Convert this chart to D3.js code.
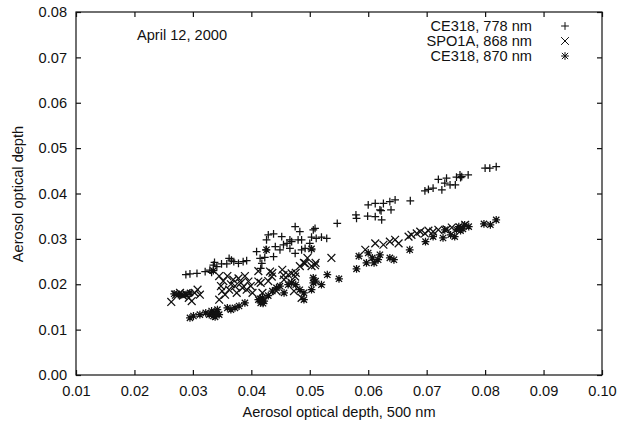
<!DOCTYPE html>
<html><head><meta charset="utf-8">
<script src="https://cdn.jsdelivr.net/npm/d3@7"></script>
<style>body{margin:0;background:#fff}svg{display:block}text{font-family:"Liberation Sans",Arial,Helvetica,sans-serif;fill:#111}</style>
</head><body><svg id="c" width="617" height="423"></svg>
<script>
const xTicks=[0.01,0.02,0.03,0.04,0.05,0.06,0.07,0.08,0.09,0.10];
const yTicks=[0.00,0.01,0.02,0.03,0.04,0.05,0.06,0.07,0.08];
const seriesNames=["CE318, 778 nm","SPO1A, 868 nm","CE318, 870 nm"];
const dateLabel="April 12, 2000";
const xTitle="Aerosol optical depth, 500 nm";
const yTitle="Aerosol optical depth";

const ce318_778=[[0.0288,0.0221],[0.0295,0.0223],[0.0307,0.0224],[0.0321,0.0228],[0.0329,0.0231],[0.0335,0.0242],[0.0341,0.0239],[0.0349,0.0245],[0.0358,0.0245],[0.0366,0.0253],[0.0370,0.0250],[0.0378,0.0246],[0.0386,0.0250],[0.0392,0.0252],[0.0409,0.0272],[0.0415,0.0257],[0.0418,0.0246],[0.0423,0.0259],[0.0426,0.0298],[0.0429,0.0309],[0.0416,0.0235],
[0.0438,0.0311],[0.0441,0.0283],[0.0438,0.0261],[0.0449,0.0276],[0.0452,0.0305],[0.0455,0.0287],[0.0461,0.0290],[0.0466,0.0298],[0.0466,0.0279],[0.0469,0.0294],[0.0475,0.0327],[0.0475,0.0268],[0.0480,0.0298],[0.0483,0.0316],[0.0486,0.0298],[0.0486,0.0276],[0.0492,0.0279],[0.0500,0.0290],[0.0503,0.0304],[0.0503,0.0276],[0.0506,0.0320],[0.0509,0.0323],[0.0511,0.0301],[0.0520,0.0304],[0.0529,0.0301],[0.0547,0.0334],[0.0579,0.0353],[0.0580,0.0345],[0.0599,0.0350],[0.0600,0.0375],[0.0612,0.0349],[0.0612,0.0378],[0.0620,0.0364],[0.0623,0.0342],[0.0626,0.0378],[0.0637,0.0382],[0.0639,0.0364],[0.0646,0.0386],[0.0672,0.0384],[0.0697,0.0406],[0.0703,0.0409],[0.0711,0.0412],[0.0720,0.0431],[0.0726,0.0408],[0.0731,0.0423],[0.0734,0.0434],[0.0740,0.0419],[0.0749,0.0419],[0.0751,0.0436],[0.0757,0.0441],[0.0760,0.0437],[0.0771,0.0441],[0.0800,0.0456],[0.0808,0.0456],[0.0819,0.0459],
[0.0332,0.0226],[0.0337,0.0248],[0.0362,0.0257],[0.0425,0.0276],[0.0622,0.0362],[0.0758,0.0435]];

const spo1a_868=[[0.0263,0.0161],[0.0271,0.0177],[0.0278,0.0181],[0.0283,0.0175],[0.0288,0.0179],[0.0293,0.0170],[0.0298,0.0163],[0.0303,0.0181],[0.0308,0.0188],[0.0312,0.0177],
[0.0345,0.0218],[0.0348,0.0196],[0.0352,0.0207],[0.0355,0.0177],[0.0359,0.0218],[0.0362,0.0188],[0.0369,0.0210],[0.0372,0.0196],[0.0375,0.0181],[0.0382,0.0203],[0.0389,0.0218],[0.0392,0.0188],[0.0399,0.0196],[0.0402,0.0181],[0.0412,0.0229],[0.0416,0.0203],[0.0419,0.0181],[0.0429,0.0207],[0.0436,0.0225],[0.0443,0.0185],[0.0453,0.0232],[0.0456,0.0210],[0.0463,0.0221],[0.0469,0.0203],[0.0476,0.0225],[0.0483,0.0240],[0.0490,0.0247],[0.0496,0.0258],[0.0503,0.0240],[0.0510,0.0247],[0.0537,0.0258],[0.0345,0.0166],[0.0473,0.0185],[0.0486,0.0170],
[0.0378,0.0213],[0.0395,0.0206],[0.0412,0.0206],[0.0432,0.0228],[0.0435,0.0217],[0.0455,0.0220],[0.0469,0.0224],[0.0475,0.0217],[0.0492,0.0246],[0.0509,0.0242],[0.0350,0.0185],[0.0365,0.0200],[0.0385,0.0192],
[0.0595,0.0276],[0.0612,0.0290],[0.0626,0.0287],[0.0637,0.0294],[0.0646,0.0298],[0.0652,0.0290],[0.0669,0.0305],[0.0674,0.0309],[0.0683,0.0312],[0.0689,0.0316],[0.0697,0.0312],[0.0703,0.0318],[0.0711,0.0316],[0.0720,0.0320],[0.0734,0.0321],[0.0743,0.0325],[0.0766,0.0331]];

const ce318_870=[[0.0268,0.0179],[0.0275,0.0177],[0.0281,0.0177],[0.0288,0.0177],[0.0295,0.0181],
[0.0295,0.0126],[0.0301,0.0130],[0.0312,0.0133],[0.0322,0.0137],[0.0328,0.0133],[0.0332,0.0141],[0.0335,0.0130],[0.0338,0.0138],[0.0342,0.0144],[0.0345,0.0133],[0.0359,0.0148],[0.0365,0.0144],[0.0372,0.0148],[0.0379,0.0152],[0.0389,0.0159],[0.0412,0.0166],[0.0416,0.0159],[0.0419,0.0170],[0.0422,0.0163],[0.0429,0.0175],[0.0436,0.0185],[0.0443,0.0192],[0.0449,0.0196],[0.0456,0.0181],[0.0463,0.0199],[0.0469,0.0203],[0.0476,0.0199],[0.0483,0.0188],[0.0490,0.0181],[0.0490,0.0166],[0.0503,0.0188],[0.0506,0.0203],[0.0506,0.0214],[0.0510,0.0207],[0.0520,0.0199],[0.0530,0.0221],[0.0550,0.0212],[0.0580,0.0234],[0.0584,0.0262],[0.0597,0.0247],[0.0600,0.0269],[0.0607,0.0258],[0.0610,0.0247],[0.0617,0.0254],[0.0620,0.0265],[0.0637,0.0258],[0.0644,0.0254],[0.0671,0.0276],[0.0698,0.0294],[0.0711,0.0305],[0.0728,0.0302],[0.0731,0.0320],[0.0741,0.0309],[0.0748,0.0305],[0.0751,0.0320],[0.0755,0.0327],[0.0758,0.0324],[0.0765,0.0331],[0.0772,0.0327],[0.0798,0.0333],[0.0809,0.0331],[0.0819,0.0342],
[0.0335,0.0136],[0.0338,0.0128],[0.0340,0.0135],[0.0415,0.0168],[0.0420,0.0158],[0.0758,0.0318],[0.0762,0.0322],
[0.0335,0.0230],[0.0426,0.0276],[0.0503,0.0278]];

const svg=d3.select("#c");
const x=d3.scaleLinear().domain([0.01,0.10]).range([76,602]);
const y=d3.scaleLinear().domain([0,0.08]).range([375,12]);
const ink="#111";
const fs=14.6;

svg.append("rect").attr("x",x(0.01)).attr("y",y(0.08)).attr("width",x(0.10)-x(0.01)).attr("height",y(0)-y(0.08))
  .attr("fill","none").attr("stroke",ink).attr("stroke-width",1.2);

const tl=5;
const fmt=d3.format(".2f");
const gB=svg.append("g").attr("transform",`translate(0,${y(0)})`)
  .call(d3.axisBottom(x).tickValues(xTicks).tickSize(-tl).tickPadding(11).tickFormat(fmt));
const gT=svg.append("g").attr("transform",`translate(0,${y(0.08)})`)
  .call(d3.axisTop(x).tickValues(xTicks).tickSize(-tl).tickFormat(""));
const gL=svg.append("g").attr("transform",`translate(${x(0.01)},0)`)
  .call(d3.axisLeft(y).tickValues(yTicks).tickSize(-tl).tickPadding(9).tickFormat(fmt));
const gR=svg.append("g").attr("transform",`translate(${x(0.10)},0)`)
  .call(d3.axisRight(y).tickValues(yTicks).tickSize(-tl).tickFormat(""));
[gB,gT,gL,gR].forEach(g=>{
  g.select(".domain").remove();
  g.selectAll(".tick line").attr("stroke",ink).attr("stroke-width",1.2);
  g.selectAll(".tick text").attr("font-size",fs).attr("fill",ink)
   .style("font-family",'"Liberation Sans",Arial,sans-serif');
});

const r=3.9;
const shapes={
  plus:`M${-r},0H${r}M0,${-r}V${r}`,
  cross:`M${-r},${-r}L${r},${r}M${-r},${r}L${r},${-r}`,
  star:`M${-r},0H${r}M0,${-r}V${r}M${-r*0.8},${-r*0.8}L${r*0.8},${r*0.8}M${-r*0.8},${r*0.8}L${r*0.8},${-r*0.8}`
};
const series=[[ce318_778,"plus"],[spo1a_868,"cross"],[ce318_870,"star"]];
series.forEach(([data,shape])=>{
  svg.append("g").selectAll("path").data(data).join("path")
    .attr("transform",d=>`translate(${x(d[0])},${y(d[1])})`)
    .attr("d",shapes[shape]).attr("fill","none").attr("stroke",ink).attr("stroke-width",1.25);
});

const leg=svg.append("g");
series.forEach(([data,shape],i)=>{
  const cy=26+i*15;
  leg.append("text").attr("x",532).attr("y",cy+5).attr("text-anchor","end").attr("font-size",fs).text(seriesNames[i]);
  leg.append("path").attr("transform",`translate(565,${cy})`).attr("d",shapes[shape])
    .attr("fill","none").attr("stroke",ink).attr("stroke-width",1);
});

svg.append("text").attr("x",137).attr("y",40).attr("font-size",fs).text(dateLabel);
svg.append("text").attr("x",339).attr("y",417).attr("text-anchor","middle").attr("font-size",fs).text(xTitle);
svg.append("text").attr("transform","translate(23,194) rotate(-90)").attr("text-anchor","middle").attr("font-size",fs).text(yTitle);
</script></body></html>
